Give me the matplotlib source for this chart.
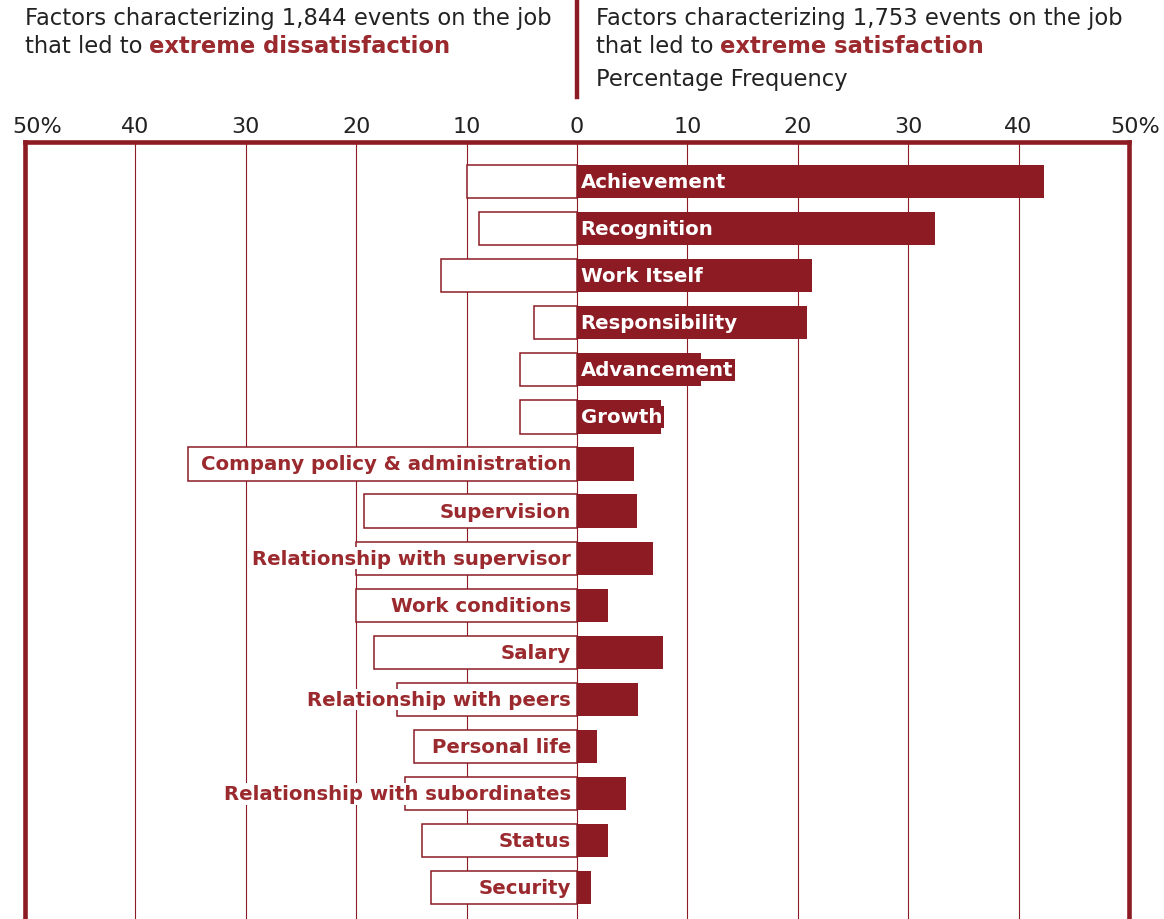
import matplotlib
matplotlib.use("Agg")
import matplotlib.pyplot as plt
from matplotlib.transforms import offset_copy

factors = ["Achievement", "Recognition", "Work Itself", "Responsibility",
           "Advancement", "Growth", "Company policy & administration",
           "Supervision", "Relationship with supervisor", "Work conditions",
           "Salary", "Relationship with peers", "Personal life",
           "Relationship with subordinates", "Status", "Security"]
dissatisfaction = [10.0, 8.9, 12.3, 3.9, 5.2, 5.2, 35.2, 19.3, 20.0, 20.0,
                   18.4, 16.3, 14.8, 15.6, 14.0, 13.2]
satisfaction = [42.3, 32.4, 21.3, 20.8, 11.2, 7.6, 5.2, 5.4, 6.9, 2.8,
                7.8, 5.5, 1.8, 4.4, 2.8, 1.3]
tick_vals = [-50, -40, -30, -20, -10, 0, 10, 20, 30, 40, 50]
tick_labels = ["50%", "40", "30", "20", "10", "0", "10", "20", "30", "40", "50%"]
grid_vals = [-40, -30, -20, -10, 0, 10, 20, 30, 40]

RED = "#8c1b24"
TXTRED = "#9b2a2f"
DARK = "#222222"

W, H = 1164, 920
fig = plt.figure(figsize=(W / 100, H / 100), dpi=100)
fig.patch.set_facecolor("white")

# axes box: left 25px, right 1129px, top 143px, bottom beyond the image
ax = fig.add_axes([25 / W, 1 - 935 / H, 1104 / W, (935 - 143) / H])
ax.set_xlim(-50, 50)
ax.set_ylim(15.98, -0.837)

for g in grid_vals:
    ax.axvline(g, color=RED, lw=0.8, zorder=1)

y = list(range(len(factors)))
ax.barh(y, [-d for d in dissatisfaction], height=0.707, color="white",
        edgecolor=RED, linewidth=1.1, zorder=2)
ax.barh(y, satisfaction, height=0.707, color=RED, zorder=2)

for i, name in enumerate(factors):
    if i < 6:
        ax.text(0.33, i, name, ha="left", va="center", color="white",
                fontsize=14.2, fontweight="bold", family="DejaVu Sans", zorder=4,
                bbox=dict(facecolor=RED, edgecolor="none", pad=1.2))
    else:
        ax.text(-0.54, i, name, ha="right", va="center", color=TXTRED,
                fontsize=14.2, fontweight="bold", family="DejaVu Sans", zorder=4,
                bbox=dict(facecolor="white", edgecolor="none", pad=1.0))

ax.set_xticks([])
ax.set_yticks([])
for s in ax.spines.values():
    s.set_color(RED)
    s.set_linewidth(3.3)
    s.set_zorder(5)

# top tick labels
for v, lab in zip(tick_vals, tick_labels):
    dx = 0
    if v == -50:
        dx = 12
    elif v == 50:
        dx = 6
    tr = offset_copy(ax.get_xaxis_transform(), fig=fig, x=dx, y=10, units="dots")
    ax.text(v, 1, lab, transform=tr, ha="center", va="baseline",
            fontsize=16, color=DARK, family="DejaVu Sans", clip_on=False)

# header
def px(x, yy):
    return x / W, 1 - yy / H

fig.text(*px(25, 25), "Factors characterizing 1,844 events on the job",
         fontsize=16.3, color=DARK, va="baseline")
t1 = fig.text(*px(25, 53), "that led to", fontsize=16.3, color=DARK, va="baseline")
fig.add_artist(plt.Line2D([577 / W, 577 / W], [1 - 0 / H, 1 - 98 / H],
                          color=RED, lw=3.2))
fig.text(*px(596, 25), "Factors characterizing 1,753 events on the job",
         fontsize=16.3, color=DARK, va="baseline")
t2 = fig.text(*px(596, 53), "that led to", fontsize=16.3, color=DARK, va="baseline")
fig.text(*px(596, 86), "Percentage Frequency", fontsize=16.3, color=DARK,
         va="baseline")

for t, word in [(t1, "extreme dissatisfaction"), (t2, "extreme satisfaction")]:
    fig.add_artist(matplotlib.text.Annotation(
        word, xy=(1, 0), xycoords=t, xytext=(5, 0), textcoords="offset points",
        va="bottom", ha="left", fontsize=16.3, fontweight="bold", color=TXTRED))

fig.savefig("out.png", dpi=100)
